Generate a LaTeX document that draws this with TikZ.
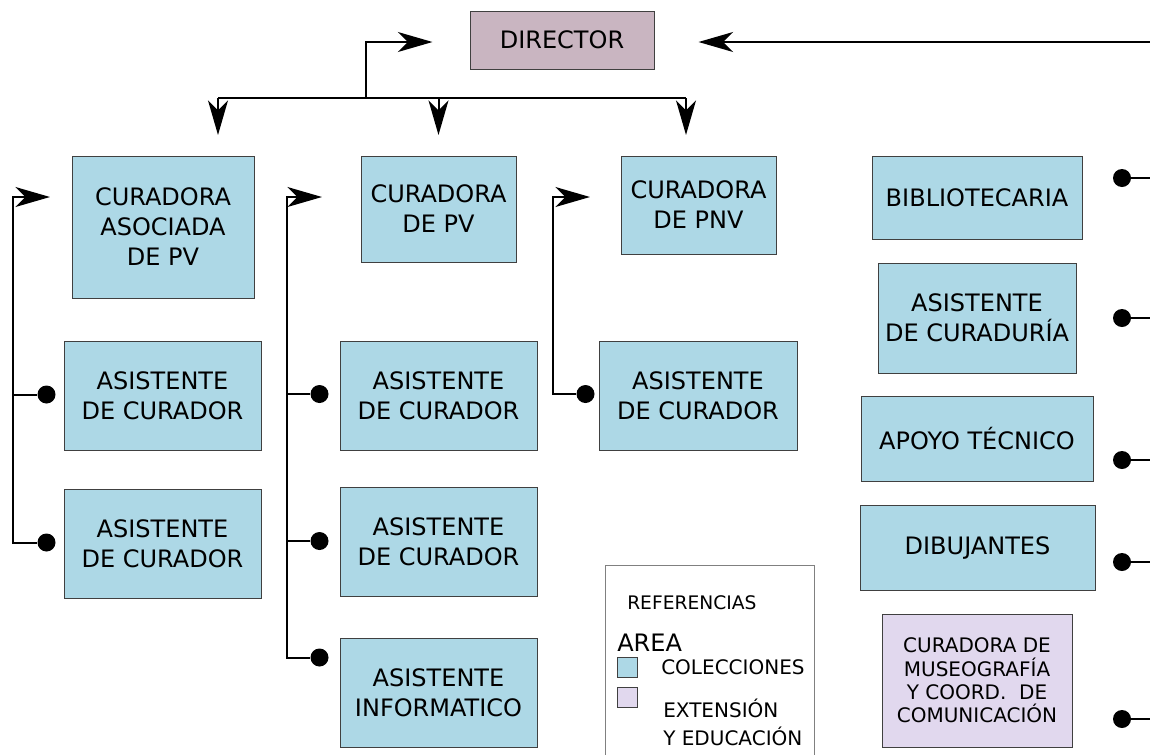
\documentclass[tikz,border=0pt]{standalone}
\usepackage{fontspec}
\setmainfont{DejaVu Sans}
\usetikzlibrary{arrows.meta,calc}

\definecolor{colec}{RGB}{173,216,230}
\definecolor{direc}{RGB}{201,181,193}
\definecolor{exten}{RGB}{225,216,238}
\definecolor{borde}{RGB}{64,64,64}

\tikzset{
  caja/.style={draw=borde, line width=0.75pt, fill=colec, align=center, inner sep=0pt, font=\fontsize{18}{22.5}\selectfont},
  punto/.style={circle, fill=black, inner sep=0pt, minimum size=13.5pt},
  linea/.style={line width=1.5pt},
  flecha/.style={linea, -{Stealth[length=26pt,width=15pt,inset=7.5pt]}},
  muestra/.style={draw=borde, line width=0.75pt, minimum size=15pt, inner sep=0pt},
}

\begin{document}
\begin{tikzpicture}[x=0.75pt,y=0.75pt,yscale=-1,xscale=1]
\useasboundingbox (0,0) rectangle (1150,754);
\clip (0,0) rectangle (1150,754);

%Shape: Rectangle
\node[caja, fill=direc, minimum width=138pt, minimum height=43.5pt] (director) at (562,40) {DIRECTOR};

%Shape: Rectangle
\node[caja, minimum width=136.5pt, minimum height=106.5pt] (asoc) at (163,227) {CURADORA\\ASOCIADA\\DE PV};
\node[caja, minimum width=116.25pt, minimum height=79.5pt] (curpv) at (438.5,209) {CURADORA\\DE PV};
\node[caja, minimum width=116.25pt, minimum height=73.5pt] (curpnv) at (698.5,205) {CURADORA\\DE PNV};

%Shape: Rectangle
\node[caja, minimum width=147.75pt, minimum height=81.75pt] (asisA) at (162.5,395.5) {ASISTENTE\\DE CURADOR};
\node[caja, minimum width=147.75pt, minimum height=81.75pt] (asisB) at (162.5,543.5) {ASISTENTE\\DE CURADOR};
\node[caja, minimum width=147.75pt, minimum height=81.75pt] (asisC) at (438.5,395.5) {ASISTENTE\\DE CURADOR};
\node[caja, minimum width=147.75pt, minimum height=81.75pt] (asisD) at (438.5,541.5) {ASISTENTE\\DE CURADOR};
\node[caja, minimum width=147.75pt, minimum height=81.75pt] (asisInf) at (438.5,692.5) {ASISTENTE\\INFORMATICO};
\node[caja, minimum width=148.5pt, minimum height=81.75pt] (asisE) at (698,395.5) {ASISTENTE\\DE CURADOR};

%Shape: Rectangle
\node[caja, minimum width=157.5pt, minimum height=62.25pt] (biblio) at (977,197.5) {BIBLIOTECARIA};
\node[caja, minimum width=148.5pt, minimum height=82.5pt] (asiscur) at (977,318) {ASISTENTE\\DE CURADURÍA};
\node[caja, minimum width=174pt, minimum height=63.75pt] (apoyo) at (977,438.5) {APOYO TÉCNICO};
\node[caja, minimum width=176.25pt, minimum height=63.75pt] (dibu) at (977.5,547.5) {DIBUJANTES};
\node[caja, fill=exten, font=\fontsize{15}{17.5}\selectfont, minimum width=142.5pt, minimum height=99.75pt] (museo) at (977,680.5) {CURADORA DE\\MUSEOGRAFÍA\\Y COORD.\ \ DE\\COMUNICACIÓN};

%Straight Lines
\coordinate (busI) at (218,98);
\coordinate (busM) at (366,98);
\coordinate (busD) at (686,98);
\coordinate (entrada) at (1160,42);
\draw[linea] (busI) -- (busD);
\draw[flecha] (busI) -- ++(0,37);
\draw[flecha] (curpv.north |- busI) -- ++(0,37);
\draw[flecha] (busD) -- ++(0,37);
\draw[flecha] (busM) |- ($(director.west)+(-37,2)$);
\draw[flecha] (entrada) -- ($(director.east)+(44,2)$);

%Straight Lines
\coordinate (troncoA) at (13,197);
\coordinate (puntaA) at (50,197);
\node[punto] (pA) at ($(asisA.west)+(-17,-1)$) {};
\node[punto] (pB) at ($(asisB.west)+(-17,-1)$) {};
\draw[flecha] (pB) -- (pB -| troncoA) |- (puntaA);
\draw[linea] (pA) -- (pA -| troncoA);

%Straight Lines
\coordinate (troncoB) at (287,197);
\coordinate (puntaB) at (322,197);
\node[punto] (pC) at ($(asisC.west)+(-20,-1.5)$) {};
\node[punto] (pD) at ($(asisD.west)+(-20,-0.5)$) {};
\node[punto] (pI) at ($(asisInf.north west)+(-20,20)$) {};
\draw[flecha] (pI) -- (pI -| troncoB) |- (puntaB);
\draw[linea] (pC) -- (pC -| troncoB);
\draw[linea] (pD) -- (pD -| troncoB);

%Straight Lines
\coordinate (troncoC) at (553,197);
\coordinate (puntaC) at (590,197);
\node[punto] (pE) at ($(asisE.west)+(-13,-1.5)$) {};
\draw[flecha] (pE) -- (pE -| troncoC) |- (puntaC);

%Straight Lines
\coordinate (salida) at (1160,0);
\node[punto] (r1) at (1122,178) {};
\node[punto] (r2) at (1122,318) {};
\node[punto] (r3) at (1122,460) {};
\node[punto] (r4) at (1122,562) {};
\node[punto] (r5) at (1122,719) {};
\foreach \r in {r1,r2,r3,r4,r5}
  \draw[linea] (\r) -- (\r -| salida);

%Shape: Rectangle
\draw[draw=black!50, line width=0.75pt] (605,565) rectangle (814,770);
% Text Node
\node[anchor=west, inner sep=0pt, font=\fontsize{14}{17}\selectfont] (refs) at (627,603) {REFERENCIAS};
% Text Node
\node[anchor=west, inner sep=0pt, font=\fontsize{18}{22}\selectfont] (area) at (617,643) {AREA};
\node[muestra, fill=colec] (mColec) at (627,667) {};
\node[muestra, fill=exten] (mExten) at (627,697.5) {};
% Text Node
\node[anchor=west, inner sep=0pt, font=\fontsize{15}{18}\selectfont] (tColec) at (661,667) {COLECCIONES};
\node[anchor=west, inner sep=0pt, align=left, font=\fontsize{15}{21}\selectfont] (tExten) at (663,722) {EXTENSIÓN\\Y EDUCACIÓN};

\end{tikzpicture}
\end{document}
